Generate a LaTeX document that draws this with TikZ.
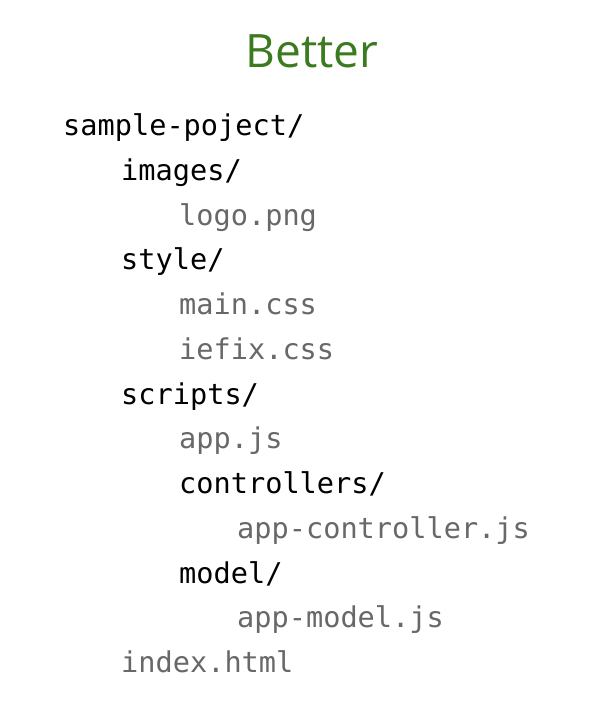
\documentclass[tikz,border=0pt]{standalone}
\usepackage{fontspec}
\setmonofont{DejaVu Sans Mono}
\newfontfamily\titlefont{Open Sans}
\usepackage{xcolor}

\begin{document}
\begin{tikzpicture}[x=1pt, y=-1pt, every node/.style={inner sep=0pt}]
        % Colours for the title, folders and files
        \definecolor{titleColor}{RGB}{59,122,31} % Green title
        \definecolor{fileColor}{RGB}{104,104,104} % Grey file names

        % Layout parameters
        \def\rowGap{44.75}    % Vertical distance between rows
        \def\indentStep{58}   % Horizontal indent per tree level
        \def\xStart{63}       % Left edge of the root folder
        \def\yStart{135.5}    % Baseline of the root folder

        \tikzset{
            dirEntry/.style={font=\fontsize{28.6}{34}\selectfont\ttfamily, text=black},
            fileEntry/.style={font=\fontsize{28.6}{34}\selectfont\ttfamily, text=fileColor}
        }

        % Macro to place one entry: name, level, row, text, style
        \newcommand{\treeEntry}[5]{
            \node[#5, anchor=base west] (#1) at ({\xStart+#2*\indentStep}, {\yStart+#3*\rowGap}) {#4};
        }

        % Canvas
        \useasboundingbox[fill=white] (0,0) rectangle (592,725);

        % Title
        \node[anchor=base, font=\fontsize{46}{50}\selectfont\titlefont, text=titleColor] (title) at (312,67.5) {Better};

        % Folder tree
        \treeEntry{root}{0}{0}{sample-poject/}{dirEntry}
        \treeEntry{images}{1}{1}{images/}{dirEntry}
        \treeEntry{logo}{2}{2}{logo.png}{fileEntry}
        \treeEntry{style}{1}{3}{style/}{dirEntry}
        \treeEntry{maincss}{2}{4}{main.css}{fileEntry}
        \treeEntry{iefix}{2}{5}{iefix.css}{fileEntry}
        \treeEntry{scripts}{1}{6}{scripts/}{dirEntry}
        \treeEntry{appjs}{2}{7}{app.js}{fileEntry}
        \treeEntry{controllers}{2}{8}{controllers/}{dirEntry}
        \treeEntry{appcontroller}{3}{9}{app-controller.js}{fileEntry}
        \treeEntry{model}{2}{10}{model/}{dirEntry}
        \treeEntry{appmodel}{3}{11}{app-model.js}{fileEntry}
        \treeEntry{index}{1}{12}{index.html}{fileEntry}
\end{tikzpicture}
\end{document}
